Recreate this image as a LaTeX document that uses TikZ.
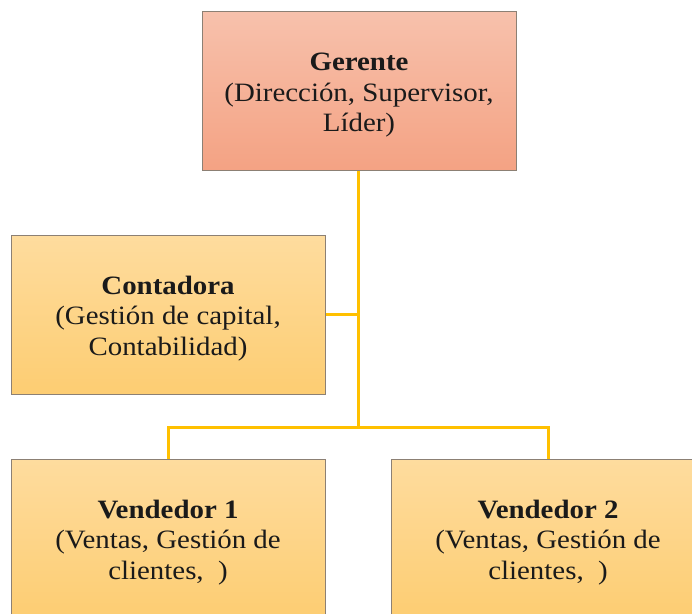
\documentclass[tikz,border=0pt]{standalone}
\usepackage{fontspec}
\setmainfont{Liberation Serif}[FakeStretch=1.09]
\definecolor{gold}{HTML}{FFC000}
\definecolor{edge}{HTML}{8C8074}
\definecolor{txt}{HTML}{1A1A1A}
\definecolor{bossTop}{HTML}{F7C1AC}
\definecolor{bossBot}{HTML}{F4A283}
\definecolor{staffTop}{HTML}{FEDC9E}
\definecolor{staffBot}{HTML}{FDCD72}
\newcommand{\lowerstrut}{\rule{0pt}{25pt}}
\begin{document}
\begin{tikzpicture}[x=1pt,y=1pt,
  box/.style={draw=edge, line width=1pt, minimum width=314pt, minimum height=159pt,
    align=center, text=txt, font=\fontsize{26.5}{30.5}\selectfont, inner sep=0pt},
  boss/.style={box, top color=bossTop, bottom color=bossBot},
  staff/.style={box, top color=staffTop, bottom color=staffBot},
  link/.style={draw=gold, line width=3pt}]
\useasboundingbox (0,0) rectangle (692,613);
\clip (0,0) rectangle (692,613);
\node[boss] (ger) at (359,521.5) {\lowerstrut\textbf{Gerente}\\(Dirección, Supervisor,\\Líder)};
\node[staff] (cont) at (168,298) {\lowerstrut\textbf{Contadora}\\(Gestión de capital,\\Contabilidad)};
\node[staff] (v1) at (168,74) {\lowerstrut\textbf{Vendedor 1}\\(Ventas, Gestión de\\clientes,\ \ )};
\node[staff] (v2) at (548,74) {\lowerstrut\textbf{Vendedor 2}\\(Ventas, Gestión de\\clientes,\ \ )};
\coordinate (bus) at (358,186);
\draw[link] (ger.south -| bus) -- (bus);
\draw[link] (cont.east) -- (cont.east -| bus);
\draw[link] (bus) -| (v1.north);
\draw[link] (bus) -| (v2.north);
\end{tikzpicture}
\end{document}
